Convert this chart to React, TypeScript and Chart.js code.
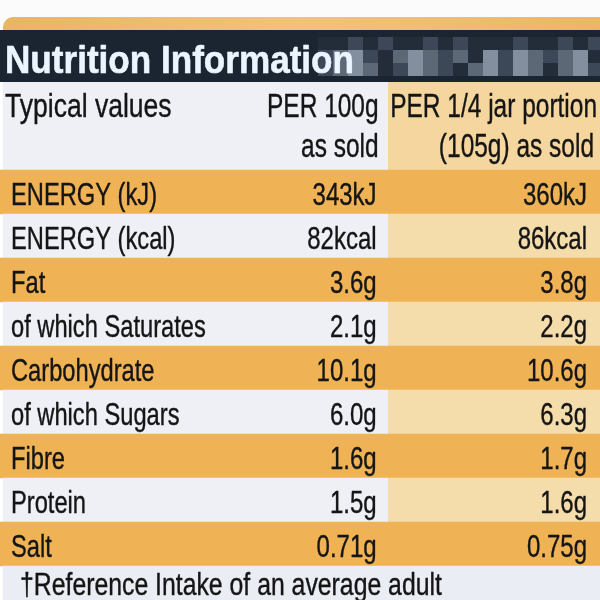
import { useEffect, useRef } from "react";
import { Chart, registerables } from "chart.js";

Chart.register(...registerables);

// ---- data ----
const TITLE = "Nutrition Information";
const HEADER_LABELS = ["Typical values", ""];
const HEADER_PER_100G = ["PER 100g", "as sold"];
const HEADER_PER_PORTION = ["PER 1/4 jar portion", "(105g) as sold"];
const NUTRIENTS = [
  "ENERGY (kJ)",
  "ENERGY (kcal)",
  "Fat",
  "of which Saturates",
  "Carbohydrate",
  "of which Sugars",
  "Fibre",
  "Protein",
  "Salt",
];
const PER_100G = ["343kJ", "82kcal", "3.6g", "2.1g", "10.1g", "6.0g", "1.6g", "1.5g", "0.71g"];
const PER_PORTION = ["360kJ", "86kcal", "3.8g", "2.2g", "10.6g", "6.3g", "1.7g", "1.6g", "0.75g"];
const FOOTNOTE = "\u2020Reference Intake of an average adult";

// ---- styles ----
const W = 600;
const H = 600;
const TOP_BAND = 82;
const ROW_PX = 44;
const SPLIT = 64.6; // column boundary, in % of width
const ORANGE = "#efb356";
const WHITE = "#eef0f6";
const CREAM = "#f4dcab";
const HEADER_CREAM = "#f4d69e";
const FOOT_WHITE = "#eaeef4";
const NAVY = "#1b2431";
const INK = "#151515";
const FONT = "'Liberation Sans', Arial, sans-serif";

type Row = {
  label: string;
  v1: string;
  v2: string;
  c1: string;
  c2: string;
  inset: boolean;
  kind: "header" | "header2" | "row" | "foot";
};

const rows: Row[] = [
  ...HEADER_LABELS.map((l, i) => ({
    label: l,
    v1: HEADER_PER_100G[i],
    v2: HEADER_PER_PORTION[i],
    c1: WHITE,
    c2: HEADER_CREAM,
    inset: true,
    kind: (i === 0 ? "header" : "header2") as Row["kind"],
  })),
  ...NUTRIENTS.map((l, i) => ({
    label: l,
    v1: PER_100G[i],
    v2: PER_PORTION[i],
    c1: i % 2 === 0 ? ORANGE : WHITE,
    c2: i % 2 === 0 ? ORANGE : CREAM,
    inset: i % 2 === 1,
    kind: "row" as Row["kind"],
  })),
  { label: FOOTNOTE, v1: "", v2: "", c1: FOOT_WHITE, c2: FOOT_WHITE, inset: true, kind: "foot" },
];

const MOSAIC = [
  "0010100101000100101",
  "1231023212031321230",
  "1232013210231320231",
];
const MOSAIC_SHADES = ["#232d3a", "#3c4757", "#5d6877", "#838f9e"];

function drawText(
  ctx: CanvasRenderingContext2D,
  text: string,
  x: number,
  y: number,
  align: CanvasTextAlign,
  font: string,
  sx: number,
  color = INK,
  stroke = 0.4
) {
  if (!text) return;
  ctx.save();
  ctx.font = font;
  ctx.fillStyle = color;
  ctx.strokeStyle = color;
  ctx.lineWidth = stroke;
  ctx.lineJoin = "round";
  ctx.textAlign = align;
  ctx.textBaseline = "alphabetic";
  ctx.translate(x, y);
  ctx.scale(sx, 1);
  ctx.fillText(text, 0, 0);
  if (stroke > 0) ctx.strokeText(text, 0, 0);
  ctx.restore();
}

const tablePlugin = {
  id: "nutritionTable",
  beforeDraw(chart: any) {
    const ctx: CanvasRenderingContext2D = chart.ctx;
    const top = chart.chartArea.top;
    ctx.save();
    ctx.fillStyle = "#fbfbfb";
    ctx.fillRect(0, 0, chart.width, top);
    // orange strip
    const g = ctx.createLinearGradient(0, 0, chart.width, 0);
    g.addColorStop(0, "#e7b663");
    g.addColorStop(0.5, "#efc47a");
    g.addColorStop(1, "#e9b865");
    ctx.fillStyle = g;
    ctx.beginPath();
    ctx.roundRect(3, 17, chart.width, 24, [10, 0, 0, 0]);
    ctx.fill();
    // navy band
    ctx.fillStyle = NAVY;
    ctx.fillRect(0, 30, chart.width, top - 30);
    // pixelated area
    const cw = 15;
    const ch = 13;
    MOSAIC.forEach((r, ri) => {
      for (let ci = 0; ci < r.length; ci++) {
        ctx.fillStyle = MOSAIC_SHADES[Number(r[ci])];
        ctx.fillRect(318 + ci * cw, 37 + ri * ch, cw, ch);
      }
    });
    drawText(ctx, TITLE, 5, 73, "left", `bold 39px ${FONT}`, 0.9, "#eaf5ff", 0.6);
    ctx.restore();
  },
  afterDatasetsDraw(chart: any) {
    const ctx: CanvasRenderingContext2D = chart.ctx;
    const xs = chart.scales.x;
    const ys = chart.scales.y;
    const left = xs.getPixelForValue(0);
    const split = xs.getPixelForValue(SPLIT);
    const right = xs.getPixelForValue(100);
    rows.forEach((r, i) => {
      const cy = ys.getPixelForValue(i);
      if (r.kind === "header" || r.kind === "header2") {
        const base = cy + (r.kind === "header" ? 13 : 9);
        const f = `34px ${FONT}`;
        drawText(ctx, r.label, left + 5, base, "left", f, 0.78);
        drawText(ctx, r.v1, split - 9, base, "right", f, 0.72);
        drawText(ctx, r.v2, right - (r.kind === "header" ? 3 : 6), base, "right", f, 0.72);
      } else if (r.kind === "row") {
        const base = cy + 13;
        const f = `32px ${FONT}`;
        drawText(ctx, r.label, left + 11, base, "left", f, 0.74);
        drawText(ctx, r.v1, split - 11, base, "right", f, 0.75);
        drawText(ctx, r.v2, right - 13, base, "right", f, 0.75);
      } else {
        drawText(ctx, r.label, left + 20, cy + 7, "left", `31px ${FONT}`, 0.8);
      }
    });
  },
};

export default function App() {
  const ref = useRef<HTMLCanvasElement | null>(null);
  useEffect(() => {
    document.body.style.margin = "0";
    const canvas = ref.current;
    if (!canvas) return;
    const barCommon = {
      grouped: false,
      barPercentage: 1,
      categoryPercentage: 1,
      borderWidth: 0,
    };
    const chart = new Chart(canvas, {
      type: "bar",
      data: {
        datasets: [
          {
            ...barCommon,
            label: "col1",
            data: rows.map((r, i) => ({ x: [r.inset ? 0.5 : 0, SPLIT], y: i })) as any,
            backgroundColor: rows.map((r) => r.c1),
          },
          {
            ...barCommon,
            label: "col2",
            data: rows.map((r, i) => ({ x: [SPLIT, 100], y: i })) as any,
            backgroundColor: rows.map((r) => r.c2),
          },
        ],
      },
      options: {
        indexAxis: "y",
        responsive: false,
        animation: false,
        devicePixelRatio: 1,
        events: [],
        layout: { padding: { top: TOP_BAND, left: 0, right: 0, bottom: 0 } },
        scales: {
          x: { type: "linear", min: 0, max: 100, display: false, offset: false },
          y: {
            type: "linear",
            min: -0.5,
            max: (H - TOP_BAND) / ROW_PX - 0.5,
            reverse: true,
            display: false,
            offset: false,
            afterBuildTicks: (scale: any) => {
              scale.ticks = rows.map((_, i) => ({ value: i }));
            },
          },
        },
        plugins: {
          legend: { display: false },
          tooltip: { enabled: false },
          title: { display: false },
        },
      } as any,
      plugins: [tablePlugin],
    });
    return () => chart.destroy();
  }, []);
  return (
    <canvas ref={ref} width={W} height={H} style={{ display: "block", width: W, height: H }} />
  );
}
